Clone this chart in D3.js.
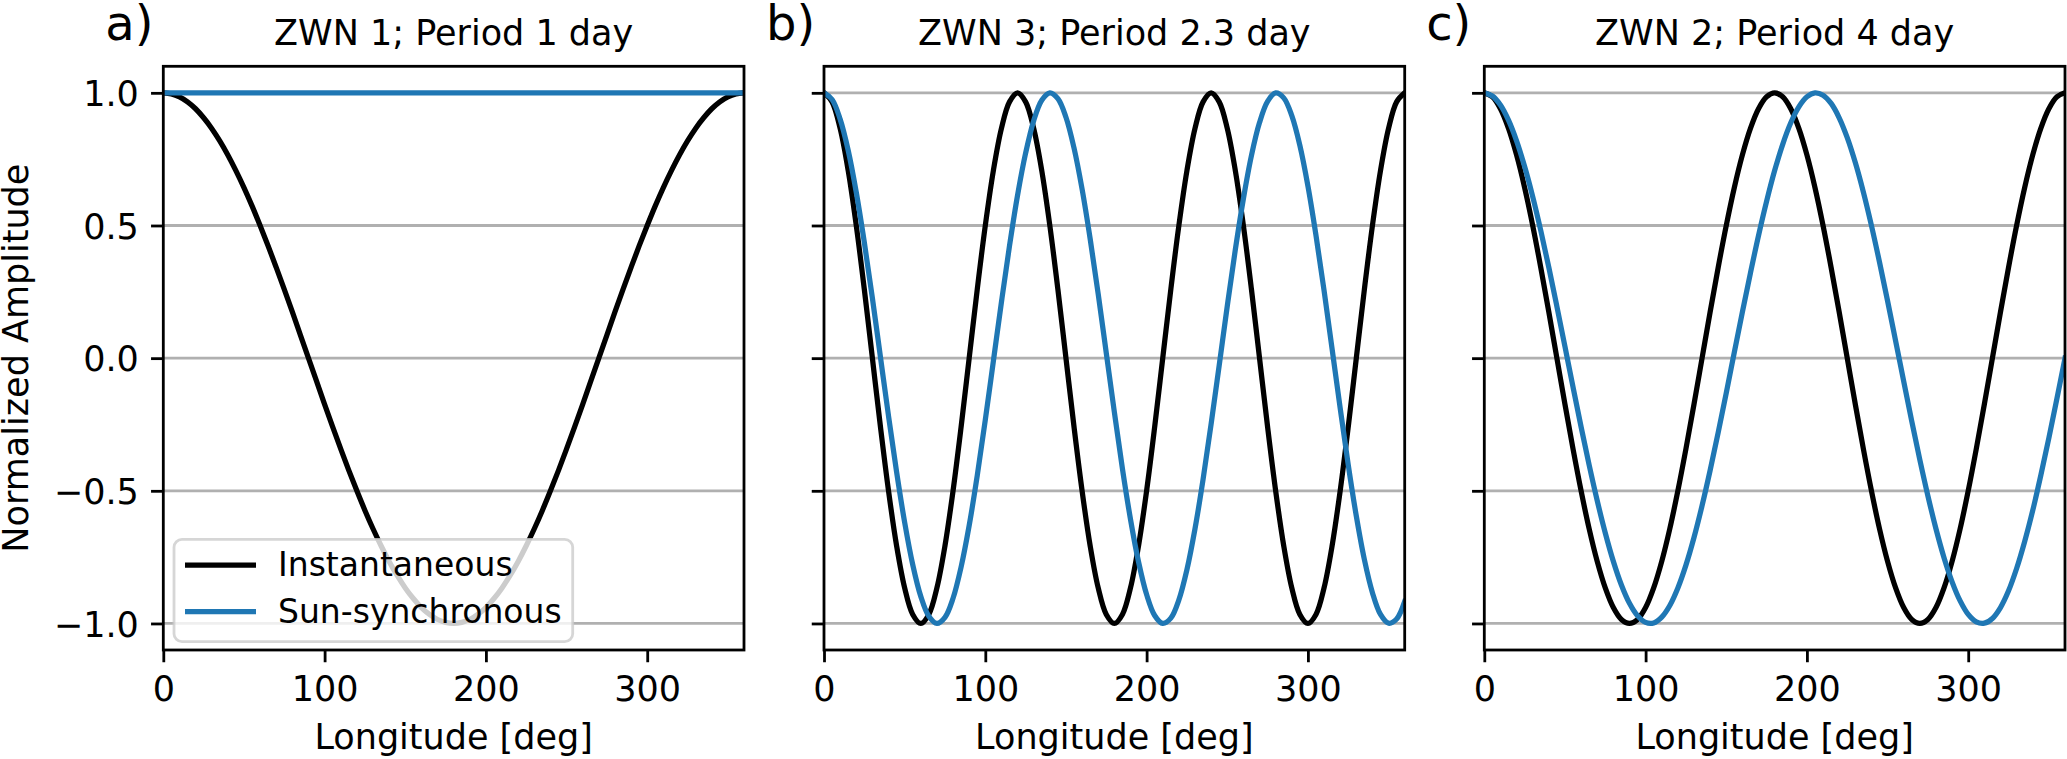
<!DOCTYPE html>
<html><head><meta charset="utf-8">
<script src="https://cdn.jsdelivr.net/npm/d3@7"></script>
<style>body{margin:0;background:#fff} text{font-family:"DejaVu Sans",sans-serif;fill:#000}</style>
</head><body><svg id="c" width="2067" height="759"></svg>
<script>
// ---------------- data ----------------
const longitude = [0,5,10,15,20,25,30,35,40,45,50,55,60,65,70,75,80,85,90,95,
  100,105,110,115,120,125,130,135,140,145,150,155,160,165,170,175,180,185,190,195,
  200,205,210,215,220,225,230,235,240,245,250,255,260,265,270,275,280,285,290,295,
  300,305,310,315,320,325,330,335,340,345,350,355,360];

const panelLabels = ["a)", "b)", "c)"];
const titles = ["ZWN 1; Period 1 day", "ZWN 3; Period 2.3 day", "ZWN 2; Period 4 day"];
const seriesNames = ["Instantaneous", "Sun-synchronous"];
const xTicks = [0, 100, 200, 300];
const yTicks = [-1.0, -0.5, 0.0, 0.5, 1.0];
const xLabel = "Longitude [deg]";
const yLabel = "Normalized Amplitude";

// Panel a
const instA = [1.000,0.996,0.985,0.966,0.940,0.906,0.866,0.819,0.766,0.707,0.643,0.574,0.500,0.423,0.342,0.259,0.174,0.087,0.000,
  -0.087,-0.174,-0.259,-0.342,-0.423,-0.500,-0.574,-0.643,-0.707,-0.766,-0.819,-0.866,-0.906,-0.940,-0.966,-0.985,-0.996,-1.000,
  -0.996,-0.985,-0.966,-0.940,-0.906,-0.866,-0.819,-0.766,-0.707,-0.643,-0.574,-0.500,-0.423,-0.342,-0.259,-0.174,-0.087,0.000,
  0.087,0.174,0.259,0.342,0.423,0.500,0.574,0.643,0.707,0.766,0.819,0.866,0.906,0.940,0.966,0.985,0.996,1.000];
const sunA = [1,1,1,1,1,1,1,1,1,1, 1,1,1,1,1,1,1,1,1,1, 1,1,1,1,1,1,1,1,1,1,
  1,1,1,1,1,1,1,1,1,1, 1,1,1,1,1,1,1,1,1,1, 1,1,1,1,1,1,1,1,1,1, 1,1,1,1,1,1,1,1,1,1, 1,1,1];

// Panel b
const instB = [1.000,0.966,0.866,0.707,0.500,0.259,0.000,-0.259,-0.500,-0.707,-0.866,-0.966,-1.000,-0.966,-0.866,-0.707,-0.500,-0.259,0.000,0.259,0.500,0.707,0.866,0.966,
  1.000,0.966,0.866,0.707,0.500,0.259,0.000,-0.259,-0.500,-0.707,-0.866,-0.966,-1.000,-0.966,-0.866,-0.707,-0.500,-0.259,0.000,0.259,0.500,0.707,0.866,0.966,
  1.000,0.966,0.866,0.707,0.500,0.259,0.000,-0.259,-0.500,-0.707,-0.866,-0.966,-1.000,-0.966,-0.866,-0.707,-0.500,-0.259,0.000,0.259,0.500,0.707,0.866,0.966,
  1.000];
const sunB = [1.000,0.975,0.901,0.783,0.625,0.436,0.226,0.004,-0.218,-0.429,-0.619,-0.778,-0.898,-0.973,-1.000,-0.977,-0.905,-0.787,-0.631,-0.443,-0.233,-0.011,0.211,0.423,0.614,0.773,0.895,0.972,
  1.000,0.978,0.908,0.792,0.637,0.450,0.241,0.019,-0.203,-0.416,-0.607,-0.768,-0.891,-0.970,-1.000,-0.980,-0.911,-0.797,-0.643,-0.457,-0.248,-0.027,0.196,0.409,0.601,0.764,0.888,0.968,
  1.000,0.981,0.914,0.802,0.649,0.463,0.255,0.034,-0.188,-0.402,-0.595,-0.759,-0.884,-0.966,-0.999,-0.983,-0.917];

// Panel c
const instC = [1.000,0.985,0.940,0.866,0.766,0.643,0.500,0.342,0.174,0.000,-0.174,-0.342,-0.500,-0.643,-0.766,-0.866,-0.940,-0.985,-1.000,
  -0.985,-0.940,-0.866,-0.766,-0.643,-0.500,-0.342,-0.174,0.000,0.174,0.342,0.500,0.643,0.766,0.866,0.940,0.985,1.000,
  0.985,0.940,0.866,0.766,0.643,0.500,0.342,0.174,0.000,-0.174,-0.342,-0.500,-0.643,-0.766,-0.866,-0.940,-0.985,-1.000,
  -0.985,-0.940,-0.866,-0.766,-0.643,-0.500,-0.342,-0.174,0.000,0.174,0.342,0.500,0.643,0.766,0.866,0.940,0.985,1.000];
const sunC = [1.000,0.988,0.954,0.897,0.819,0.722,0.609,0.481,0.342,0.195,0.044,-0.109,-0.259,-0.403,-0.537,-0.659,-0.766,-0.855,-0.924,-0.971,-0.996,
  -0.998,-0.976,-0.932,-0.866,-0.780,-0.676,-0.556,-0.423,-0.280,-0.131,0.022,0.174,0.321,0.462,0.591,0.707,0.806,0.887,0.947,0.985,1.000,
  0.991,0.960,0.906,0.831,0.737,0.626,0.500,0.362,0.216,0.065,-0.087,-0.238,-0.383,-0.519,-0.643,-0.752,-0.843,-0.915,-0.966,-0.994,-0.999,
  -0.981,-0.940,-0.877,-0.793,-0.691,-0.574,-0.442,-0.301,-0.152,0.000];

const instSeries = [instA, instB, instC];
const sunSeries = [sunA, sunB, sunC];

// ---------------- layout ----------------
const colors = ["#000000", "#1f77b4"];
const axLefts = [163.3, 824, 1484.3];
const axW = 580.7, axTop = 66.3, axH = 583.7;
const lw = 2.8, tickLen = 12.25, pad = 12.25, fs = 35;

const svg = d3.select("#c");

axLefts.forEach((left, p) => {
  const x = d3.scaleLinear().domain([0, 360]).range([left, left + axW]);
  const y = d3.scaleLinear().domain([-1.1, 1.1]).range([axTop + axH, axTop]);
  const g = svg.append("g");

  const clipId = "clip" + p;
  svg.append("clipPath").attr("id", clipId).append("rect")
    .attr("x", left).attr("y", axTop).attr("width", axW).attr("height", axH);

  // grid
  g.append("g").selectAll("line").data(yTicks).join("line")
    .attr("x1", left).attr("x2", left + axW)
    .attr("y1", d => y(d)).attr("y2", d => y(d))
    .attr("stroke", "#b0b0b0").attr("stroke-width", lw);

  // lines
  const line = d3.line().x((d, i) => x(longitude[i])).y(d => y(d)).curve(d3.curveCatmullRom.alpha(0.5));
  [instSeries[p], sunSeries[p]].forEach((s, k) => {
    g.append("path").attr("d", line(s)).attr("fill", "none")
      .attr("stroke", colors[k]).attr("stroke-width", 5.25)
      .attr("stroke-linejoin", "round").attr("stroke-linecap", "square")
      .attr("clip-path", `url(#${clipId})`);
  });

  // x axis
  const xa = g.append("g").attr("transform", `translate(0,${axTop + axH})`)
    .call(d3.axisBottom(x).tickValues(xTicks).tickSize(tickLen).tickPadding(pad).tickFormat(d3.format("d")));
  xa.select(".domain").remove();
  xa.selectAll("line").attr("stroke", "#000").attr("stroke-width", lw);
  xa.selectAll("text").attr("y", 51.1).attr("dy", null)
    .style("font-size", fs + "px").style("font-family", "DejaVu Sans").attr("fill", "#000");

  // y axis
  const ya = g.append("g").attr("transform", `translate(${left},0)`)
    .call(d3.axisLeft(y).tickValues(yTicks).tickSize(tickLen).tickPadding(pad).tickFormat(p === 0 ? d3.format(".1f") : () => ""));
  ya.select(".domain").remove();
  ya.selectAll("line").attr("stroke", "#000").attr("stroke-width", lw);
  ya.selectAll("text").attr("dy", "0.3645em")
    .style("font-size", fs + "px").style("font-family", "DejaVu Sans").attr("fill", "#000");

  // spines
  g.append("rect").attr("x", left).attr("y", axTop).attr("width", axW).attr("height", axH)
    .attr("fill", "none").attr("stroke", "#000").attr("stroke-width", lw);

  // title
  g.append("text").attr("x", left + axW / 2).attr("y", 45.3).attr("text-anchor", "middle")
    .style("font-size", fs + "px").text(titles[p]);
  // panel label
  g.append("text").attr("x", left - 0.1 * axW).attr("y", 40)
    .style("font-size", "48px").text(panelLabels[p]);
  // x label
  g.append("text").attr("x", left + axW / 2).attr("y", 749).attr("text-anchor", "middle")
    .style("font-size", fs + "px").text(xLabel);

  if (p === 0) {
    g.append("text").attr("transform", `translate(28,${axTop + axH / 2}) rotate(-90)`)
      .attr("text-anchor", "middle").style("font-size", fs + "px").text(yLabel);

    // legend
    const lg = g.append("g");
    lg.append("rect").attr("x", 174).attr("y", 539.3).attr("width", 398.7).attr("height", 102.4)
      .attr("rx", 8).attr("ry", 8)
      .attr("fill", "#fff").attr("fill-opacity", 0.8)
      .attr("stroke", "#cccccc").attr("stroke-opacity", 0.8).attr("stroke-width", 2.8);
    const rowsY = [565, 611.7];
    seriesNames.forEach((name, k) => {
      lg.append("line").attr("x1", 185).attr("x2", 256).attr("y1", rowsY[k]).attr("y2", rowsY[k])
        .attr("stroke", colors[k]).attr("stroke-width", 5.25);
      lg.append("text").attr("x", 278).attr("y", rowsY[k] + 11.2)
        .style("font-size", "33px").text(name);
    });
  }
});
</script></body></html>
